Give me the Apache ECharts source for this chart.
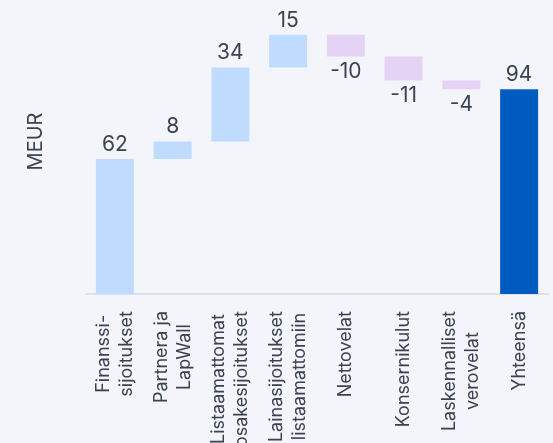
<!DOCTYPE html>
<html>
<head>
<meta charset="utf-8">
<script src="https://cdn.jsdelivr.net/npm/echarts@6/dist/echarts.min.js"></script>
<style>
  html, body { margin: 0; padding: 0; background: #f3f5fa; }
  #chart { width: 553px; height: 443px; }
</style>
</head>
<body>
<div id="chart"></div>
<script>
const categories = [
  'Finanssi-\nsijoitukset',
  'Partnera ja\nLapWall',
  'Listaamattomat\nosakesijoitukset',
  'Lainasijoitukset\nlistaamattomiin',
  'Nettovelat',
  'Konsernikulut',
  'Laskennalliset\nverovelat',
  'Yhteensä'
]
const changes = [62, 8, 34, 15, -10, -11, -4]
const total = 94

const textColor = '#3a4251'
const fontFamily = 'Inter, "Noto Sans", sans-serif'

// waterfall: invisible base + visible step
const baseData = []
const stepData = []
let running = 0
changes.forEach(v => {
  const next = running + v
  baseData.push(Math.min(running, next))
  stepData.push({
    value: Math.abs(v),
    change: v,
    itemStyle: { color: v >= 0 ? '#bfdcff' : '#e4d3f4' },
    label: { position: v >= 0 ? 'top' : 'bottom', distance: v >= 0 ? 4 : 5 }
  })
  running = next
})
baseData.push(0)
stepData.push({
  value: total,
  change: total,
  itemStyle: { color: '#005bc1' },
  label: { position: 'top', distance: 4 }
})

const chart = echarts.init(document.getElementById('chart'))
chart.setOption({
  backgroundColor: '#f3f5fa',
  animation: false,
  grid: {
    left: 86,
    right: 5,
    top: -11,
    bottom: 149,
    containLabel: false,
    outerBoundsMode: 'none'
  },
  xAxis: {
    type: 'category',
    data: categories,
    axisTick: { show: false },
    axisLine: {
      lineStyle: { color: '#dde2e9', width: 2 }
    },
    axisLabel: {
      rotate: 90,
      interval: 0,
      margin: 17,
      color: textColor,
      fontFamily,
      fontSize: 18,
      lineHeight: 23,
      // lines centred on each other, block still starts at the axis
      formatter: v => v.split('\n').map(s => '{c|' + s + '}').join('\n'),
      rich: {
        c: {
          align: 'center',
          color: textColor,
          fontFamily,
          fontSize: 18,
          lineHeight: 23,
          height: 23
        }
      }
    }
  },
  yAxis: {
    type: 'value',
    min: 0,
    max: 140,
    name: 'MEUR',
    nameLocation: 'middle',
    nameGap: 40,
    nameTextStyle: {
      color: textColor,
      fontFamily,
      fontSize: 20
    },
    axisLine: { show: false },
    axisTick: { show: false },
    axisLabel: { show: false },
    splitLine: { show: false }
  },
  series: [
    {
      name: 'base',
      type: 'bar',
      stack: 'wf',
      barWidth: 38,
      itemStyle: { color: 'transparent' },
      emphasis: { disabled: true },
      data: baseData
    },
    {
      name: 'step',
      type: 'bar',
      stack: 'wf',
      barWidth: 38,
      label: {
        show: true,
        color: textColor,
        fontFamily,
        fontSize: 21,
        formatter: p => String(p.data.change)
      },
      data: stepData
    }
  ]
})
</script>
</body>
</html>
